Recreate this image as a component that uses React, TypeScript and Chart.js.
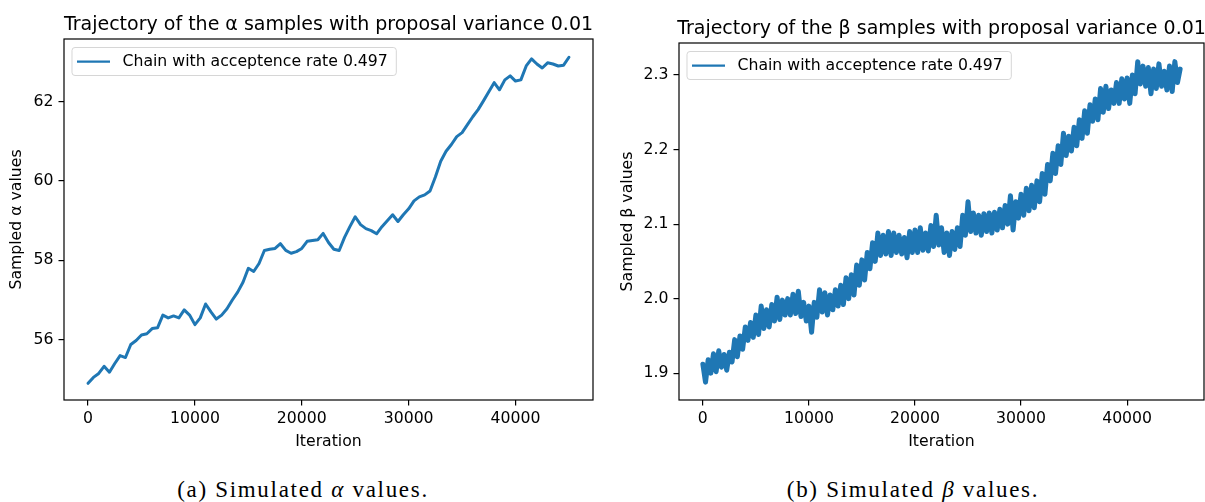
import React, { useEffect, useRef } from 'react';
import { Chart, registerables } from 'chart.js';

Chart.register(...registerables);

// ---- data ----
const ALPHA_STEP = 500;
const alphaSamples: number[] = [
  54.9, 55.05, 55.15, 55.33, 55.18, 55.4, 55.6, 55.55, 55.88, 55.98,
  56.12, 56.15, 56.28, 56.3, 56.62, 56.55, 56.6, 56.55, 56.75, 56.62,
  56.38, 56.55, 56.9, 56.7, 56.52, 56.62, 56.78, 57.0, 57.2, 57.45,
  57.8, 57.72, 57.92, 58.25, 58.28, 58.3, 58.42, 58.25, 58.18, 58.22,
  58.3, 58.48, 58.5, 58.52, 58.68, 58.45, 58.28, 58.25, 58.58, 58.85,
  59.1, 58.9, 58.8, 58.75, 58.67, 58.85, 59.0, 59.15, 58.98, 59.15,
  59.3, 59.5, 59.6, 59.65, 59.75, 60.1, 60.5, 60.75, 60.92, 61.12,
  61.22, 61.42, 61.62, 61.8, 62.02, 62.25, 62.48, 62.3, 62.55, 62.65,
  62.52, 62.55, 62.9, 63.08, 62.95, 62.85, 62.98, 62.95, 62.9, 62.92,
  63.12,
];

const BETA_STEP = 250;
const betaSamples: number[] = [
  1.912, 1.888, 1.918, 1.9, 1.926, 1.902, 1.93, 1.908,
  1.925, 1.904, 1.928, 1.915, 1.945, 1.922, 1.95, 1.932,
  1.962, 1.944, 1.968, 1.948, 1.978, 1.952, 1.99, 1.96,
  1.985, 1.962, 1.992, 1.97, 2.002, 1.972, 1.998, 1.978,
  2.0, 1.978, 2.006, 1.98, 2.01, 1.976, 1.995, 1.97,
  1.99, 1.955, 1.995, 1.975, 2.012, 1.982, 2.008, 1.978,
  2.005, 1.985, 2.012, 1.99, 2.018, 1.992, 2.028, 2.0,
  2.032, 2.005, 2.045, 2.018, 2.052, 2.025, 2.062, 2.04,
  2.075, 2.05, 2.088, 2.058, 2.085, 2.06, 2.09, 2.058,
  2.088, 2.062, 2.085, 2.06, 2.082, 2.055, 2.09, 2.062,
  2.092, 2.062, 2.095, 2.065, 2.088, 2.064, 2.098, 2.07,
  2.112, 2.072, 2.095, 2.062, 2.088, 2.058, 2.09, 2.066,
  2.095, 2.07, 2.112, 2.085, 2.13, 2.09, 2.115, 2.088,
  2.112, 2.085, 2.114, 2.09, 2.115, 2.088, 2.116, 2.092,
  2.12, 2.095, 2.125, 2.1, 2.138, 2.092, 2.13, 2.108,
  2.14, 2.112, 2.148, 2.118, 2.152, 2.122, 2.158, 2.13,
  2.168, 2.14, 2.18, 2.158, 2.195, 2.168, 2.205, 2.18,
  2.222, 2.192, 2.218, 2.198, 2.23, 2.205, 2.24, 2.215,
  2.252, 2.222, 2.26, 2.238, 2.268, 2.24, 2.282, 2.25,
  2.285, 2.255, 2.28, 2.262, 2.29, 2.262, 2.295, 2.268,
  2.296, 2.262, 2.3, 2.275, 2.318, 2.288, 2.312, 2.285,
  2.31, 2.275, 2.308, 2.282, 2.315, 2.285, 2.305, 2.28,
  2.312, 2.278, 2.318, 2.29, 2.308,
];

const iterationTicks = [0, 10000, 20000, 30000, 40000];
const iterationTickLabels = ['0', '10000', '20000', '30000', '40000'];
const alphaTicks = [56, 58, 60, 62];
const alphaTickLabels = ['56', '58', '60', '62'];
const betaTicks = [1.9, 2.0, 2.1, 2.2, 2.3];
const betaTickLabels = ['1.9', '2.0', '2.1', '2.2', '2.3'];

const legendText = 'Chain with acceptence rate 0.497';

// ---- styling ----
const LINE_COLOR = '#1f77b4';
const SANS = "'DejaVu Sans', sans-serif";
const LABEL_SIZE = 15.7;
const TITLE_SIZE = 19;

type PanelSpec = {
  canvasLeft: number;
  width: number;
  height: number;
  plotLeft: number;
  plotTop: number;
  plotRight: number;
  plotBottom: number;
  step: number;
  values: number[];
  yMin: number;
  yMax: number;
  yTicks: number[];
  yTickLabels: string[];
  title: string;
  yLabel: string;
  yTitlePad: number;
  lineWidth: number;
};

const panelDecor = (spec: PanelSpec) => ({
  id: 'panelDecor',
  afterDatasetsDraw(chart: any) {
    const { ctx, chartArea: a } = chart;
    ctx.save();
    // axes frame (all four spines)
    ctx.strokeStyle = '#000';
    ctx.lineWidth = 1.2;
    ctx.strokeRect(a.left, a.top, a.right - a.left, a.bottom - a.top);

    // title
    ctx.fillStyle = '#000';
    ctx.font = `${TITLE_SIZE}px ${SANS}`;
    ctx.textAlign = 'center';
    ctx.textBaseline = 'alphabetic';
    ctx.fillText(spec.title, (a.left + a.right) / 2, a.top - 9);

    // legend box
    ctx.font = `${LABEL_SIZE}px ${SANS}`;
    const tw = ctx.measureText(legendText).width;
    const bx = a.left + 7.5;
    const by = a.top + 8;
    const bw = 6 + 33 + 12 + tw + 8;
    const bh = 28;
    ctx.beginPath();
    ctx.roundRect(bx + 0.5, by + 0.5, bw, bh, 3);
    ctx.fillStyle = 'rgba(255,255,255,0.8)';
    ctx.fill();
    ctx.strokeStyle = 'rgba(204,204,204,0.8)';
    ctx.lineWidth = 1;
    ctx.stroke();

    const cy = by + bh / 2 + 0.5;
    ctx.beginPath();
    ctx.moveTo(bx + 5.5, cy);
    ctx.lineTo(bx + 38.5, cy);
    ctx.strokeStyle = LINE_COLOR;
    ctx.lineWidth = 2.25;
    ctx.stroke();

    ctx.fillStyle = '#000';
    ctx.textAlign = 'left';
    ctx.textBaseline = 'middle';
    ctx.fillText(legendText, bx + 51, cy);
    ctx.restore();
  },
});

function TracePanel({ spec }: { spec: PanelSpec }) {
  const ref = useRef<HTMLCanvasElement | null>(null);

  useEffect(() => {
    if (!ref.current) return;
    const points = spec.values.map((v, i) => ({ x: i * spec.step, y: v }));
    const tickFont = { family: SANS, size: LABEL_SIZE };
    const tickGrid = {
      display: true,
      drawOnChartArea: false,
      drawTicks: true,
      tickLength: 5.5,
      color: '#000',
      lineWidth: 1.2,
    };
    const chart = new Chart(ref.current, {
      type: 'line',
      data: {
        datasets: [
          {
            label: legendText,
            data: points,
            borderColor: LINE_COLOR,
            backgroundColor: LINE_COLOR,
            borderWidth: spec.lineWidth,
            pointRadius: 0,
            tension: 0,
            fill: false,
            borderJoinStyle: 'round',
            borderCapStyle: 'round',
          },
        ],
      },
      options: {
        animation: false,
        responsive: false,
        maintainAspectRatio: false,
        events: [],
        layout: {
          padding: { top: spec.plotTop, right: spec.width - spec.plotRight, left: 0, bottom: 0 },
        },
        plugins: {
          legend: { display: false },
          title: { display: false },
          tooltip: { enabled: false },
        },
        scales: {
          x: {
            type: 'linear',
            min: -2250,
            max: 47250,
            afterFit: (s: any) => {
              s.height = spec.height - spec.plotBottom;
            },
            afterBuildTicks: (s: any) => {
              s.ticks = iterationTicks.map((v) => ({ value: v }));
            },
            ticks: {
              autoSkip: false,
              maxRotation: 0,
              padding: 4.5,
              color: '#000',
              font: tickFont,
              callback: (v: any) => {
                const i = iterationTicks.indexOf(Number(v));
                return i >= 0 ? iterationTickLabels[i] : '';
              },
            },
            grid: tickGrid,
            border: { display: false },
            title: {
              display: true,
              text: 'Iteration',
              color: '#000',
              font: tickFont,
              padding: { top: 0, bottom: 9 },
            },
          },
          y: {
            type: 'linear',
            min: spec.yMin,
            max: spec.yMax,
            afterFit: (s: any) => {
              s.width = spec.plotLeft;
            },
            afterBuildTicks: (s: any) => {
              s.ticks = spec.yTicks.map((v) => ({ value: v }));
            },
            ticks: {
              autoSkip: false,
              padding: 5,
              color: '#000',
              font: tickFont,
              callback: (v: any) => {
                const i = spec.yTicks.findIndex((t) => Math.abs(t - Number(v)) < 1e-9);
                return i >= 0 ? spec.yTickLabels[i] : '';
              },
            },
            grid: tickGrid,
            border: { display: false },
            title: {
              display: true,
              text: spec.yLabel,
              color: '#000',
              font: tickFont,
              padding: { top: spec.yTitlePad, bottom: 0 },
            },
          },
        },
      },
      plugins: [panelDecor(spec)],
    } as any);
    return () => chart.destroy();
  }, [spec]);

  return (
    <canvas
      ref={ref}
      width={spec.width}
      height={spec.height}
      style={{ position: 'absolute', left: spec.canvasLeft, top: 0, width: spec.width, height: spec.height }}
    />
  );
}

const alphaPanel: PanelSpec = {
  canvasLeft: 0,
  width: 600,
  height: 460,
  plotLeft: 64,
  plotTop: 39,
  plotRight: 593,
  plotBottom: 400,
  step: ALPHA_STEP,
  values: alphaSamples,
  yMin: 54.48,
  yMax: 63.58,
  yTicks: alphaTicks,
  yTickLabels: alphaTickLabels,
  title: 'Trajectory of the α samples with proposal variance 0.01',
  yLabel: 'Sampled α values',
  yTitlePad: 8,
  lineWidth: 3,
};

const betaPanel: PanelSpec = {
  canvasLeft: 600,
  width: 605,
  height: 460,
  plotLeft: 79,
  plotTop: 43,
  plotRight: 604,
  plotBottom: 400,
  step: BETA_STEP,
  values: betaSamples,
  yMin: 1.864,
  yMax: 2.343,
  yTicks: betaTicks,
  yTickLabels: betaTickLabels,
  title: 'Trajectory of the β samples with proposal variance 0.01',
  yLabel: 'Sampled β values',
  yTitlePad: 18.5,
  lineWidth: 5,
};

const captionStyle: React.CSSProperties = {
  position: 'absolute',
  top: 475,
  fontFamily: "'Liberation Serif', serif",
  fontSize: 23,
  letterSpacing: '1.7px',
  lineHeight: '30px',
  textAlign: 'center',
  color: '#000',
  whiteSpace: 'nowrap',
};

export default function App() {
  return (
    <div
      style={{
        position: 'fixed',
        left: 0,
        top: 0,
        width: 1205,
        height: 502,
        background: '#fff',
        overflow: 'hidden',
      }}
    >
      <TracePanel spec={alphaPanel} />
      <TracePanel spec={betaPanel} />
      <div style={{ ...captionStyle, left: 0, width: 606 }}>
        (a) Simulated <i>α</i> values.
      </div>
      <div style={{ ...captionStyle, left: 611, width: 604 }}>
        (b) Simulated <i>β</i> values.
      </div>
    </div>
  );
}
